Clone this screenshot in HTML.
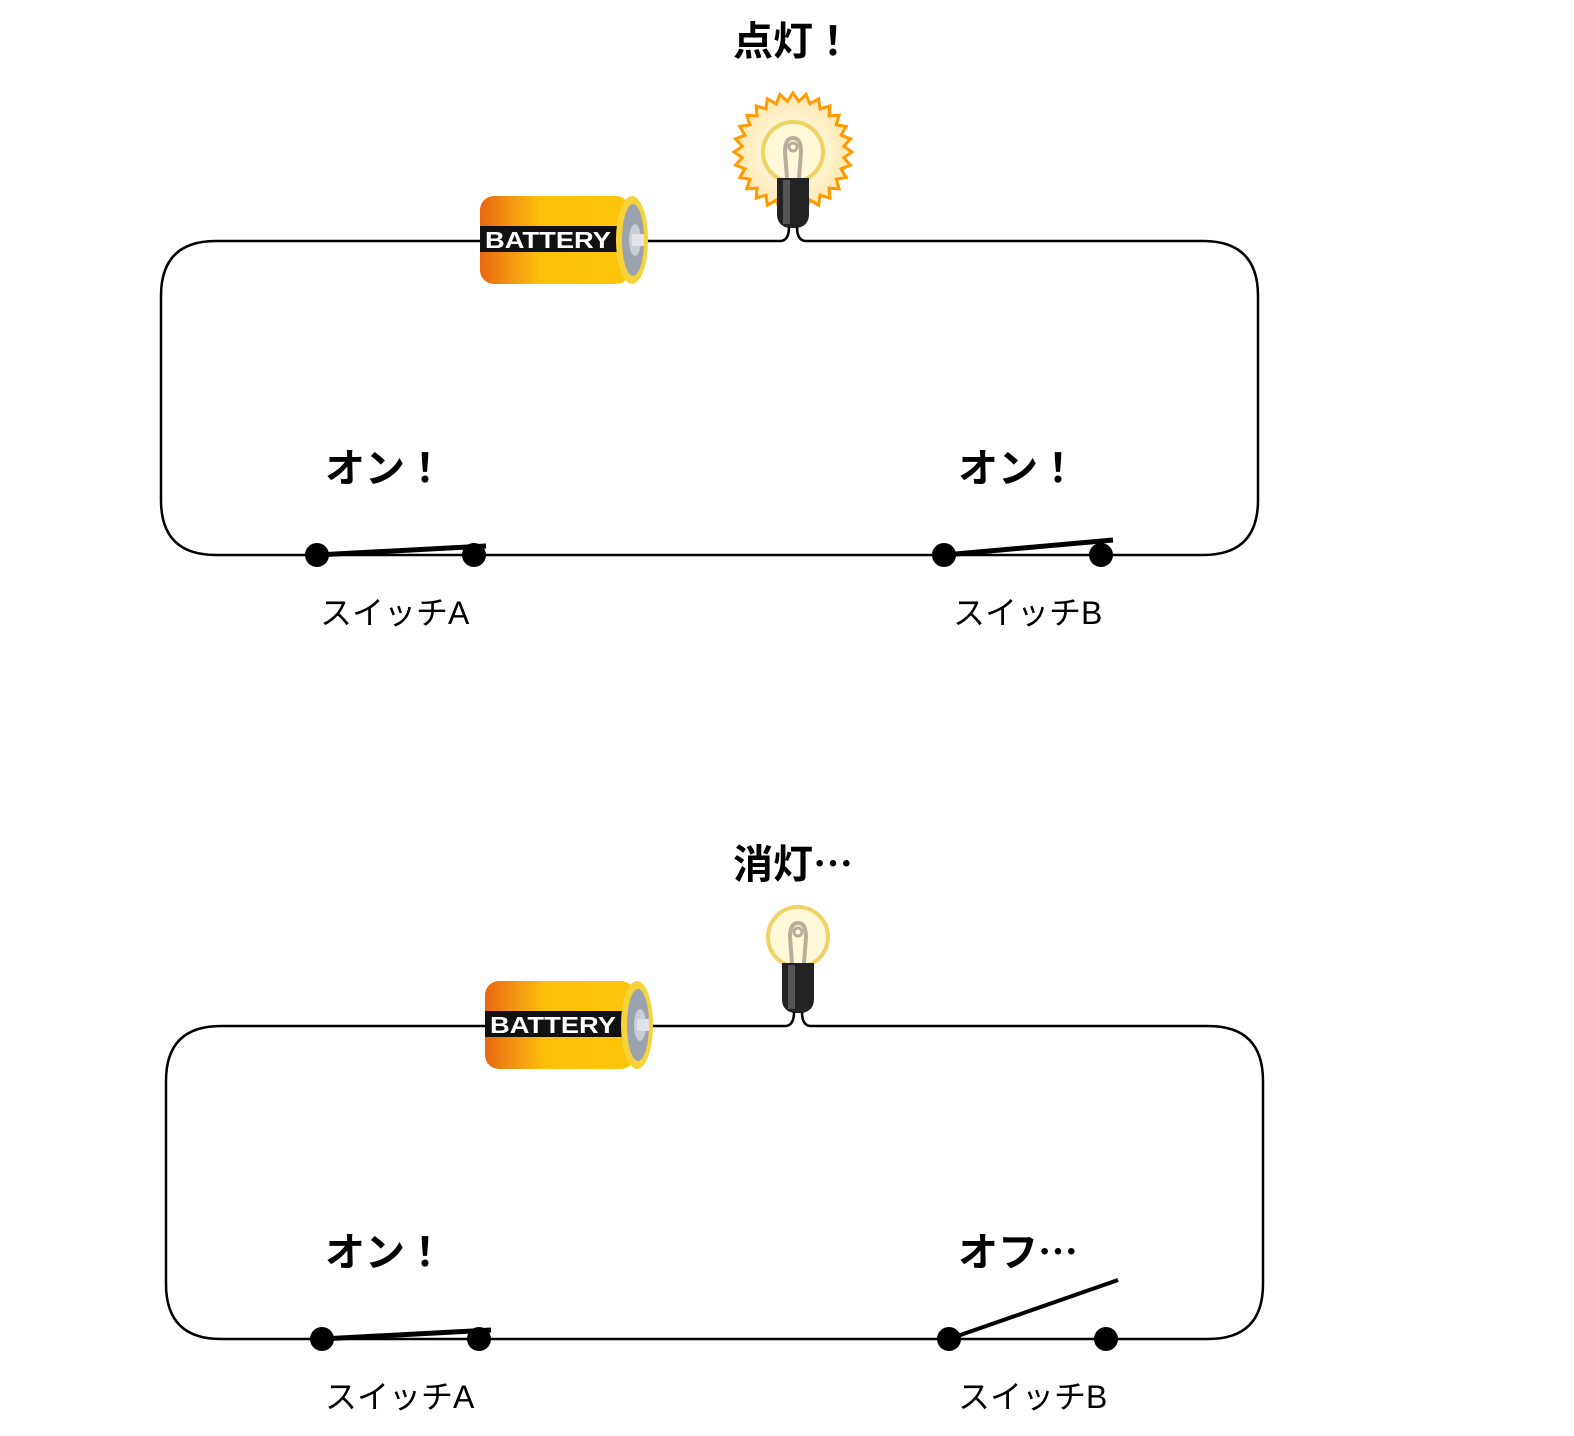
<!DOCTYPE html>
<html><head><meta charset="utf-8"><style>
html,body{margin:0;padding:0;background:#fff;}
svg{display:block}
.t{font-family:"Liberation Sans","Noto Sans CJK JP",sans-serif;}
.j{font-family:"Noto Sans CJK JP",sans-serif;}
</style></head><body>
<svg width="1574" height="1436" viewBox="0 0 1574 1436" xmlns="http://www.w3.org/2000/svg">
<defs>
<linearGradient id="bg" x1="0" x2="1" y1="0" y2="0">
<stop offset="0" stop-color="#e8660f"/><stop offset="0.22" stop-color="#f39a12"/><stop offset="0.4" stop-color="#fbbf0a"/><stop offset="1" stop-color="#fcc60a"/></linearGradient>
<radialGradient id="glow"><stop offset="0" stop-color="#fffbe6"/><stop offset="0.6" stop-color="#fff2cc"/><stop offset="1" stop-color="#ffe7b0"/></radialGradient>
<g id="bat">
<rect x="0" y="0" width="150" height="88" rx="14" fill="url(#bg)"/>
<rect x="0" y="30" width="142" height="26" fill="#111"/>
<text x="5" y="52" class="t" font-size="23" font-weight="bold" fill="#fff" textLength="126" lengthAdjust="spacingAndGlyphs">BATTERY</text>
<ellipse cx="152" cy="44" rx="16" ry="44" fill="#f7d23a"/>
<ellipse cx="153" cy="44" rx="11" ry="36" fill="#9aa3ad"/>
<ellipse cx="155" cy="44" rx="6" ry="16" fill="#c8ced5"/>
<rect x="152" y="38" width="12" height="12" fill="#dfe3e8"/>
</g>
<g id="bulb">
<circle cx="0" cy="0" r="30" fill="#fff9d9" stroke="#f0d265" stroke-width="4"/>
<path d="M-6 26 L-8 0 Q-8 -14 0 -14 Q8 -14 8 0 L6 26" fill="none" stroke="#b9ae9c" stroke-width="4"/>
<circle cx="0" cy="-5" r="4" fill="none" stroke="#b9ae9c" stroke-width="3"/>
<path d="M-16 26 L16 26 L16 62 Q16 74 4 76 L-4 76 Q-16 74 -16 62 Z" fill="#222"/>
<rect x="-10" y="28" width="7" height="44" fill="#555"/>
<path d="M-4 75 Q-4 88 -12 89 M4 75 Q4 88 12 89" fill="none" stroke="#000" stroke-width="2.5"/>
</g>
</defs>

<text x="733" y="55" class="t" font-size="40" font-weight="bold">点灯！</text>
<polygon id="star" fill="url(#glow)" stroke="#ff9a00" stroke-width="3"/>
<path d="M216 241 H781 M805 241 H1203 Q1258 241 1258 296 V500 Q1258 555 1203 555 H216 Q161 555 161 500 V296 Q161 241 216 241" fill="none" stroke="#000" stroke-width="2.5"/>
<use href="#bat" x="480" y="196"/>
<use href="#bulb" x="793" y="152"/>
<text x="325" y="482" class="t" font-size="40" font-weight="bold">オン！</text>
<text x="958" y="482" class="t" font-size="40" font-weight="bold">オン！</text>
<circle cx="317" cy="555" r="12"/><circle cx="474" cy="555" r="12"/>
<line x1="317" y1="555" x2="486" y2="546" stroke="#000" stroke-width="5"/>
<circle cx="944" cy="555" r="12"/><circle cx="1101" cy="555" r="12"/>
<line x1="944" y1="555" x2="1113" y2="540" stroke="#000" stroke-width="5"/>
<text x="320" y="624" class="t" font-size="32">スイッチA</text>
<text x="953" y="624" class="t" font-size="32">スイッチB</text>

<text x="733" y="878" class="j" font-size="40" font-weight="bold">消灯…</text>
<path d="M221 1026 H786 M810 1026 H1208 Q1263 1026 1263 1081 V1284 Q1263 1339 1208 1339 H221 Q166 1339 166 1284 V1081 Q166 1026 221 1026" fill="none" stroke="#000" stroke-width="2.5"/>
<use href="#bat" x="485" y="981"/>
<use href="#bulb" x="798" y="937"/>
<text x="325" y="1266" class="t" font-size="40" font-weight="bold">オン！</text>
<text x="958" y="1266" class="j" font-size="40" font-weight="bold">オフ…</text>
<circle cx="322" cy="1339" r="12"/><circle cx="479" cy="1339" r="12"/>
<line x1="322" y1="1339" x2="491" y2="1330" stroke="#000" stroke-width="5"/>
<circle cx="949" cy="1339" r="12"/><circle cx="1106" cy="1339" r="12"/>
<line x1="949" y1="1339" x2="1118" y2="1280" stroke="#000" stroke-width="4"/>
<text x="325" y="1408" class="t" font-size="32">スイッチA</text>
<text x="958" y="1408" class="t" font-size="32">スイッチB</text>
</svg>
<script>
var p=[],n=28,cx=793,cy=152;
for(var i=0;i<n*2;i++){var r=i%2?51:59,a=Math.PI*i/n;p.push((cx+r*Math.cos(a)).toFixed(1)+","+(cy+r*Math.sin(a)).toFixed(1));}
document.getElementById("star").setAttribute("points",p.join(" "));
</script>
</body></html>
